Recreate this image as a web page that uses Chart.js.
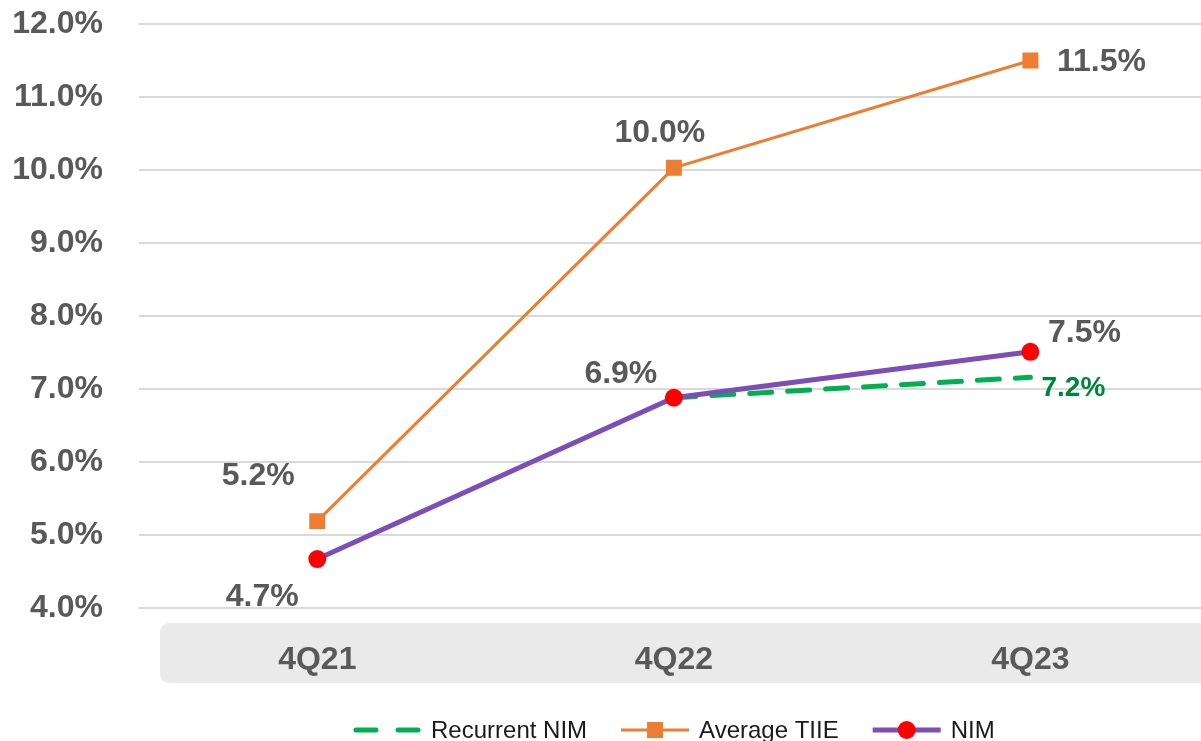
<!DOCTYPE html>
<html>
<head>
<meta charset="utf-8">
<script src="https://cdn.jsdelivr.net/npm/chart.js@4.4.1/dist/chart.umd.min.js"></script>
<style>
  html, body { margin: 0; padding: 0; background: #fff; overflow: hidden; }
  #wrap { width: 1220px; height: 741px; }
</style>
</head>
<body>
<div id="wrap"><canvas id="nimChart"></canvas></div>
<script>
const quarters = ['4Q21', '4Q22', '4Q23'];
const recurrentNim = [null, 6.88, 7.16];
const averageTiie = [5.19, 10.03, 11.5];
const nim = [4.67, 6.88, 7.51];
const yTicks = [4, 5, 6, 7, 8, 9, 10, 11, 12];

const grey = '#595959';
const font = "'Liberation Sans', Arial, sans-serif";

// where each value label sits relative to its point
const labelOffsets = {
  recurrent: [null, null, [43, 11]],
  tiie: [[-59, -45], [-14, -35], [71, 2]],
  nim: [[-55, 38], [-53, -24], [54, -19]]
};

const axisBand = {
  id: 'axisBand',
  beforeDraw(chart) {
    const { ctx, chartArea } = chart;
    ctx.save();
    ctx.fillStyle = '#EAEAEA';
    ctx.beginPath();
    ctx.roundRect(chartArea.left + 21, chartArea.bottom + 15, chart.width, 60, 9);
    ctx.fill();
    ctx.restore();
  }
};

const valueLabels = {
  id: 'valueLabels',
  afterDatasetsDraw(chart) {
    const { ctx } = chart;
    ctx.save();
    ctx.textAlign = 'center';
    ctx.textBaseline = 'middle';
    chart.data.datasets.forEach((ds, di) => {
      const meta = chart.getDatasetMeta(di);
      meta.data.forEach((pt, i) => {
        const off = labelOffsets[ds.key][i];
        if (!off || ds.data[i] == null) return;
        ctx.fillStyle = ds.labelColor;
        ctx.font = 'bold ' + ds.labelSize + 'px ' + font;
        ctx.fillText(ds.data[i].toFixed(1) + '%', pt.x + off[0], pt.y + off[1]);
      });
    });
    ctx.restore();
  }
};

const bottomLegend = {
  id: 'bottomLegend',
  afterDraw(chart) {
    const { ctx, chartArea } = chart;
    const order = ['recurrent', 'tiie', 'nim'];
    const items = order.map(k => chart.data.datasets.find(d => d.key === k));
    const sampleW = 68, textGap = 10, itemGap = 34;
    ctx.save();
    ctx.font = '24px ' + font;
    const widths = items.map(d => ctx.measureText(d.label).width);
    let total = 0;
    items.forEach((d, i) => { total += sampleW + textGap + widths[i]; });
    total += itemGap * (items.length - 1);
    let x = (chartArea.left + chartArea.right) / 2 - total / 2;
    const y = 730;
    items.forEach((d, i) => {
      ctx.strokeStyle = d.borderColor;
      ctx.lineWidth = d.borderWidth;
      ctx.lineCap = d.borderDash ? 'round' : 'butt';
      ctx.setLineDash(d.borderDash ? [20, 22] : []);
      ctx.beginPath();
      ctx.moveTo(x + (d.borderDash ? 3 : 0), y);
      ctx.lineTo(x + sampleW, y);
      ctx.stroke();
      ctx.setLineDash([]);
      const cx = x + sampleW / 2;
      if (d.pointStyle === 'rect') {
        ctx.fillStyle = d.pointBackgroundColor;
        ctx.fillRect(cx - 8, y - 8, 16, 16);
      } else if (d.pointRadius > 0) {
        ctx.fillStyle = d.pointBackgroundColor;
        ctx.beginPath();
        ctx.arc(cx, y, 9, 0, Math.PI * 2);
        ctx.fill();
      }
      ctx.fillStyle = '#1a1a1a';
      ctx.textAlign = 'left';
      ctx.textBaseline = 'middle';
      ctx.fillText(d.label, x + sampleW + textGap, y + 1);
      x += sampleW + textGap + widths[i] + itemGap;
    });
    ctx.restore();
  }
};

new Chart(document.getElementById('nimChart'), {
  type: 'line',
  data: {
    labels: quarters,
    datasets: [
      {
        key: 'nim', label: 'NIM', data: nim, order: 1,
        borderColor: '#7B4FB6', borderWidth: 5,
        pointStyle: 'circle', pointRadius: 9, pointHoverRadius: 9,
        pointBackgroundColor: '#FF0000', pointBorderWidth: 0,
        labelColor: grey, labelSize: 32
      },
      {
        key: 'tiie', label: 'Average TIIE', data: averageTiie, order: 2,
        borderColor: '#ED7D31', borderWidth: 3,
        pointStyle: 'rect', pointRadius: 11.3, pointHoverRadius: 11.3,
        pointBackgroundColor: '#ED7D31', pointBorderWidth: 0,
        labelColor: grey, labelSize: 32
      },
      {
        key: 'recurrent', label: 'Recurrent NIM', data: recurrentNim, order: 3,
        borderColor: '#00B050', borderWidth: 5, borderDash: [22, 16],
        borderCapStyle: 'round',
        pointRadius: 0, pointHoverRadius: 0,
        labelColor: '#00853E', labelSize: 28
      }
    ]
  },
  options: {
    responsive: true,
    maintainAspectRatio: false,
    animation: false,
    layout: { padding: { top: 24, left: 10, right: 5, bottom: 65 } },
    plugins: { legend: { display: false }, tooltip: { enabled: false } },
    scales: {
      x: {
        offset: true,
        grid: { display: false },
        border: { display: false },
        ticks: { color: grey, padding: 25, font: { family: font, size: 32, weight: 'bold' } },
        afterFit(scale) { scale.height = 68; }
      },
      y: {
        min: yTicks[0],
        max: yTicks[yTicks.length - 1],
        afterBuildTicks(scale) { scale.ticks = yTicks.map(v => ({ value: v })); },
        grid: { color: '#D9D9D9', lineWidth: 2, drawTicks: false },
        border: { display: false },
        ticks: {
          color: grey, padding: 36,
          font: { family: font, size: 32, weight: 'bold' },
          callback: v => v.toFixed(1) + '%'
        },
        afterFit(scale) { scale.width = 129; scale.paddingTop = 0; scale.paddingBottom = 0; }
      }
    }
  },
  plugins: [axisBand, valueLabels, bottomLegend]
});
</script>
</body>
</html>
